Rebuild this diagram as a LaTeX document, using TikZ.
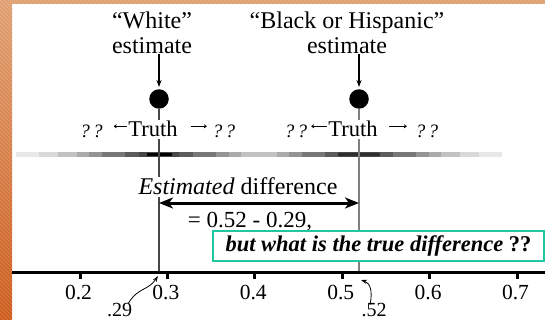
\documentclass[tikz,border=0pt]{standalone}
\usepackage{fontspec}
\setmainfont{Liberation Serif}
\usetikzlibrary{arrows.meta}
\definecolor{frameTop}{HTML}{E0A072}
\definecolor{frameBot}{HTML}{CD5C1C}
\definecolor{boxgreen}{HTML}{1FC89E}
\tikzset{
  lbl/.style={font=\fontsize{24}{25}\selectfont, align=center, inner sep=0pt},
  dotnode/.style={circle, fill=black, minimum size=19.5pt, inner sep=0pt},
  truthnode/.style={font=\fontsize{22.5}{24}\selectfont, fill=white, inner sep=1.5pt},
  qq/.style={font=\fontsize{19}{21}\selectfont\itshape, inner sep=0pt},
  estarr/.style={line width=1.4pt, -{Stealth[length=7pt,width=5pt]}},
  smallarr/.style={line width=0.7pt, -{To[length=3pt,width=4pt]}},
  vline/.style={line width=1.4pt},
  dblarr/.style={line width=3pt, {Stealth[length=14pt,width=11pt,inset=4pt]}-{Stealth[length=14pt,width=11pt,inset=4pt]}},
  ticklbl/.style={font=\fontsize{21.5}{23}\selectfont, anchor=base, inner sep=0pt},
  ptlbl/.style={font=\fontsize{20}{22}\selectfont, anchor=base, inner sep=0pt},
  curvarr/.style={line width=0.8pt, -{Stealth[length=6pt,width=4pt]}},
}
\begin{document}
\begin{tikzpicture}[x=1pt,y=-1pt]
\useasboundingbox (0,0) rectangle (545,320);
\fill[white] (0,0) rectangle (545,320);
% orange frame
\shade[top color=frameTop, bottom color=frameBot] (0,0) rectangle (12,320);
\fill[frameTop] (0,0) rectangle (545,4);
\begin{scope}
  \clip (0,0) rectangle (12,320) (0,0) rectangle (545,4);
  \foreach \i in {-320,-316,...,548} {
    \draw[white, opacity=0.22, line width=0.6pt] (\i,0) -- (\i+320,320);
  }
\end{scope}
% gray band
\foreach \w/\g in {143/9,120/15,101/24,82/33,70/42,57/53,34/64,20/72} {
  \fill[black!\g] (159-\w,152) rectangle (159+\w,157);
  \fill[black!\g] (359-\w,152) rectangle (359+\w,157);
}
\fill[black] (146.5,153.3) rectangle (171.5,155.7);
\fill[black!82] (338,153.3) rectangle (380,155.7);
% dots and axis points
\node[dotnode] (dW) at (159,99) {};
\node[dotnode] (dB) at (359,99) {};
\coordinate (aW) at (159,272);
\coordinate (aB) at (359,272);
\draw[vline, black!72] (dW) -- (aW);
\draw[vline, black!50] (dB) -- (aB);
% labels
\node[lbl, anchor=north] (lW) at (152,12) {“White”\\estimate};
\node[lbl, anchor=north] (lB) at (347,12) {“Black or Hispanic”\\estimate};
\draw[estarr] (lW.south -| dW) -- ([yshift=2pt]dW.north);
\draw[estarr] (lB.south -| dB) -- ([yshift=2pt]dB.north);
% truth rows
\node[truthnode, anchor=base] (tW) at (153,137) {Truth};
\node[truthnode, anchor=base] (tB) at (353,137) {Truth};
\node[qq, anchor=base] (qWl) at (91.5,138) {?\,?};
\node[qq, anchor=base] (qWr) at (224,138) {?\,?};
\node[qq, anchor=base] (qBl) at (296,138) {?\,?};
\node[qq, anchor=base] (qBr) at (427,138) {?\,?};
\draw[smallarr, shorten >=11pt] ([yshift=3pt]tW.west) -- ([yshift=3pt]tW.west -| qWl.east);
\draw[smallarr, shorten <=12pt, shorten >=6pt] ([yshift=3pt]tW.east) -- ([yshift=3pt]tW.east -| qWr.west);
\draw[smallarr, shorten >=4pt] ([yshift=3pt]tB.west) -- ([yshift=3pt]tB.west -| qBl.east);
\draw[smallarr, shorten <=10pt, shorten >=9pt] ([yshift=3pt]tB.east) -- ([yshift=3pt]tB.east -| qBr.west);
% estimated difference
\node[font=\fontsize{24}{25}\selectfont, fill=white, inner sep=1.5pt, anchor=base] (ed) at (238,195) {\textit{Estimated} difference};
\coordinate (dL) at (159,203);
\coordinate (dR) at (359,203);
\draw[dblarr] (dL) -- (dR);
\node[font=\fontsize{23}{24}\selectfont, inner sep=0pt, anchor=base] (eq) at (250,227) {= 0.52 - 0.29,};
\node[draw=boxgreen, line width=2pt, fill=white, minimum width=331pt, minimum height=30pt, inner sep=0pt,
      font=\fontsize{22.5}{24}\selectfont] (gb) at (378.5,246) {\textbf{\textit{but what is the true difference}} \textbf{??}};
% axis
\draw[line width=3pt] (12,272) -- (545,272);
\foreach \v/\t in {0.2/0.2,0.3/0.3,0.4/0.4,0.5/0.5,0.6/0.6,0.7/0.7} {
  \pgfmathsetmacro\xx{80+(\v-0.2)*874}
  \draw[line width=3pt] (\xx,272) -- (\xx,279);
  \node[ticklbl] at (\xx-1.5,299) {\t};
}
% point labels
\node[ptlbl] (l29) at (119.5,316) {.29};
\node[ptlbl] (l52) at (374,316) {.52};
\coordinate (p29) at (158,276);
\coordinate (p52) at (361,280);
\draw[curvarr] ([xshift=-4pt,yshift=-1pt]l29.north east) .. controls (138,287) and (148,291) .. (p29);
\draw[curvarr] ([xshift=-4pt,yshift=-2pt]l52.north) .. controls (373,291) and (370,283) .. (p52);
\end{tikzpicture}
\end{document}
